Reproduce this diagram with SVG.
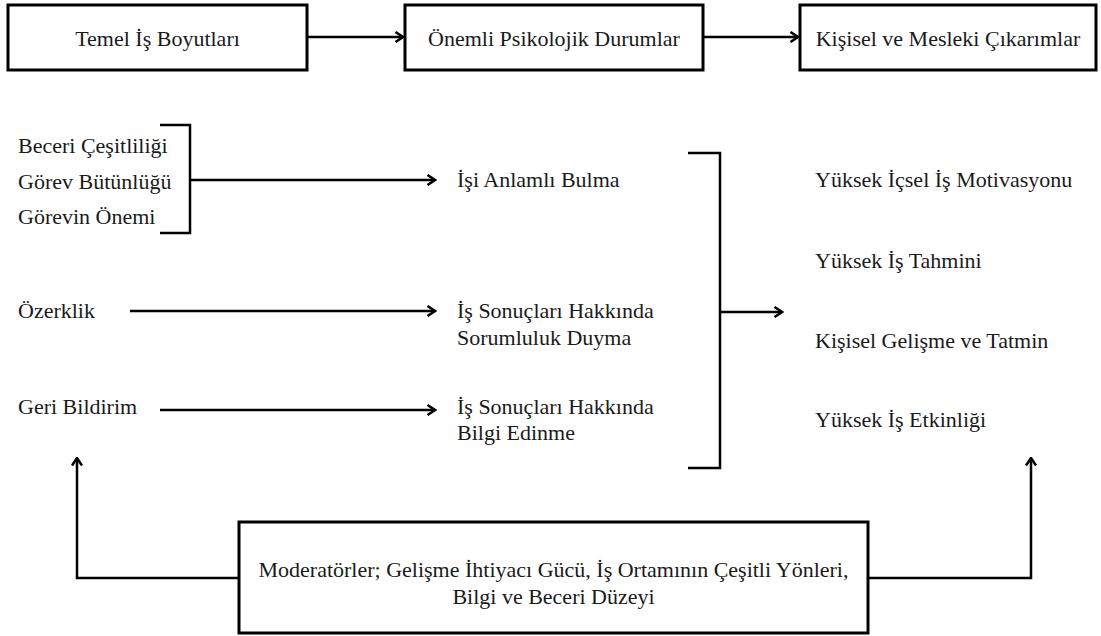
<svg xmlns="http://www.w3.org/2000/svg" width="1101" height="636" viewBox="0 0 1101 636">
<style>
text{font-family:'Liberation Serif','DejaVu Serif',serif;font-size:22px;fill:#1a1a1a}
.c{text-anchor:middle}
.box{fill:#fff;stroke:#000;stroke-width:3}
.ln{fill:none;stroke:#000;stroke-width:2.5}
</style>
<defs>
<marker id="ah" viewBox="0 0 12 12" refX="10.5" refY="6" markerWidth="12" markerHeight="12" markerUnits="userSpaceOnUse" orient="auto">
<polyline points="3,1 10.5,6 3,11" fill="none" stroke="#000" stroke-width="2.5"/>
</marker>
</defs>
<rect width="1101" height="636" fill="#fff"/>
<g id="connectors">
<line class="ln" x1="307" y1="37" x2="403" y2="37" marker-end="url(#ah)"/>
<line class="ln" x1="703" y1="37" x2="798" y2="37" marker-end="url(#ah)"/>
<polyline class="ln" points="160,125 190,125 190,233 160,233"/>
<line class="ln" x1="190" y1="180" x2="435" y2="180" marker-end="url(#ah)"/>
<line class="ln" x1="130" y1="311" x2="435" y2="311" marker-end="url(#ah)"/>
<line class="ln" x1="160" y1="410" x2="435" y2="410" marker-end="url(#ah)"/>
<polyline class="ln" points="688,153 720,153 720,468 688,468"/>
<line class="ln" x1="720" y1="312" x2="782" y2="312" marker-end="url(#ah)"/>
<polyline class="ln" points="239,578 77,578 77,458" marker-end="url(#ah)"/>
<polyline class="ln" points="868,578 1031,578 1031,458" marker-end="url(#ah)"/>
</g>
<g id="n-temel"><rect class="box" x="8" y="5" width="299" height="65"/><text class="c" x="157.5" y="46">Temel İş Boyutları</text></g>
<g id="n-onemli"><rect class="box" x="405" y="5" width="298" height="65"/><text class="c" x="554" y="46">Önemli Psikolojik Durumlar</text></g>
<g id="n-kisisel"><rect class="box" x="800" y="5" width="296" height="65"/><text class="c" x="948" y="46">Kişisel ve Mesleki Çıkarımlar</text></g>
<g id="n-boyutlar">
<text x="18" y="153">Beceri Çeşitliliği</text>
<text x="18" y="189">Görev Bütünlüğü</text>
<text x="18" y="224">Görevin Önemi</text>
</g>
<g id="n-ozerklik"><text x="18" y="318">Özerklik</text></g>
<g id="n-geri"><text x="18" y="414">Geri Bildirim</text></g>
<g id="n-anlamli"><text x="457" y="187">İşi Anlamlı Bulma</text></g>
<g id="n-sorumluluk"><text x="457" y="318">İş Sonuçları Hakkında</text><text x="457" y="345">Sorumluluk Duyma</text></g>
<g id="n-bilgi"><text x="457" y="414">İş Sonuçları Hakkında</text><text x="457" y="440">Bilgi Edinme</text></g>
<g id="n-sonuclar">
<text x="815" y="187">Yüksek İçsel İş Motivasyonu</text>
<text x="815" y="268">Yüksek İş Tahmini</text>
<text x="815" y="348">Kişisel Gelişme ve Tatmin</text>
<text x="815" y="427">Yüksek İş Etkinliği</text>
</g>
<g id="n-moderator"><rect class="box" x="239" y="522" width="629" height="111"/>
<text class="c" x="553.5" y="577">Moderatörler; Gelişme İhtiyacı Gücü, İş Ortamının Çeşitli Yönleri,</text>
<text class="c" x="553.5" y="604">Bilgi ve Beceri Düzeyi</text></g>
</svg>
